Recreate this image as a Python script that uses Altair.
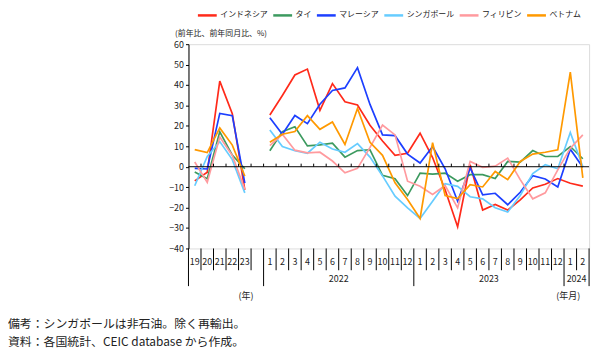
import altair as alt
import pandas as pd

countries = ["インドネシア", "タイ", "マレーシア", "シンガポール", "フィリピン", "ベトナム"]
colors = ["#FF2A1A", "#3C9A5F", "#1C3FFF", "#66CCFF", "#FF9A9E", "#FF9900"]

year_labels = ["19", "20", "21", "22", "23"]
month_labels = [str(m) for m in range(1, 13)] + [str(m) for m in range(1, 13)] + ["1", "2"]
month_groups = ["2022", "2023", "2024"]
month_group_sizes = [12, 12, 2]

annual_idn = [-6.9, -2.7, 41.9, 26.0, -11.3]
annual_tha = [-2.6, -5.9, 17.1, 5.7, -1.0]
annual_mys = [-0.8, -1.1, 26.1, 25.0, -8.0]
annual_sgp = [-9.3, 5.0, 12.3, 3.5, -12.8]
annual_phl = [2.3, -7.7, 14.6, 5.5, -11.0]
annual_vnm = [8.4, 6.9, 19.0, 10.6, -4.6]

monthly_idn = [25.3, 34.9, 44.9, 47.8, 27.6, 40.7, 31.8, 30.2, 20.3, 12.6, 5.6, 6.6,
               16.4, 4.5, -11.3, -29.4, 1.0, -21.2, -18.5, -21.2, -16.2, -10.4, -8.6, -5.8,
               -8.1, -9.5]
monthly_tha = [7.8, 17.2, 19.6, 10.2, 10.7, 11.5, 4.7, 7.9, 8.3, -4.2, -5.9, -14.1,
               -3.1, -3.6, -3.1, -7.1, -3.9, -3.9, -5.8, 2.6, 2.3, 7.9, 5.0, 5.0,
               9.9, 3.9]
monthly_mys = [24.0, 15.9, 25.1, 21.1, 30.6, 37.3, 38.6, 48.5, 30.5, 15.6, 15.2, 6.2,
               1.8, 9.9, -1.0, -16.9, -0.6, -13.8, -13.0, -18.6, -12.5, -4.4, -6.0, -9.9,
               8.6, -0.3]
monthly_sgp = [18.0, 9.9, 7.8, 6.6, 12.0, 8.7, 7.1, 11.3, 4.7, -4.5, -14.4, -20.1,
               -25.3, -16.9, -8.3, -9.6, -14.7, -15.7, -20.1, -22.2, -14.1, -3.4, 1.0, -1.0,
               16.8, 0.0]
monthly_phl = [10.3, 15.9, 8.1, 6.8, 7.1, 2.8, -3.0, -0.8, 9.5, 20.4, 15.6, -7.1,
               -9.6, -13.6, -9.2, -20.1, 2.6, -0.3, 0.3, 4.2, -6.3, -15.7, -12.8, -1.5,
               9.1, 15.6]
monthly_vnm = [12.0, 15.9, 17.2, 25.0, 18.3, 21.9, 10.9, 28.5, 12.0, 5.6, -7.9, -16.0,
               -25.3, 11.8, -14.1, -15.6, -8.8, -9.9, -2.3, -6.3, 2.6, 6.2, 7.1, 8.3,
               46.3, -5.5]

annual = [annual_idn, annual_tha, annual_mys, annual_sgp, annual_phl, annual_vnm]
monthly = [monthly_idn, monthly_tha, monthly_mys, monthly_sgp, monthly_phl, monthly_vnm]

n_annual = len(year_labels)
month_start = n_annual + 1  # one blank slot between sections
n_total = month_start + len(month_labels)

rows = []
for c, a, m in zip(countries, annual, monthly):
    for i, v in enumerate(a):
        rows.append({"country": c, "idx": i, "value": v, "seg": c + "_A"})
    for i, v in enumerate(m):
        rows.append({"country": c, "idx": month_start + i, "value": v, "seg": c + "_M"})
df = pd.DataFrame(rows)

cat_rows = [{"idx": i, "lab": l} for i, l in enumerate(year_labels)]
cat_rows += [{"idx": month_start + i, "lab": l} for i, l in enumerate(month_labels)]
cat_df = pd.DataFrame(cat_rows)

long_b = [-0.5, month_start - 0.5]
grp_rows = []
s = month_start
for g, n in zip(month_groups, month_group_sizes):
    grp_rows.append({"idx": s + (n - 1) / 2, "lab": g})
    s += n
    long_b.append(s - 0.5)
grp_df = pd.DataFrame(grp_rows)
short_b = [i + 0.5 for i in range(n_total - 1) if (i + 0.5) not in long_b]
short_df = pd.DataFrame({"b": short_b})
long_df = pd.DataFrame({"b": long_b})
tick_df = pd.DataFrame({"b": [i + 0.5 for i in range(n_total - 1)]})
tick_df["z0"] = 0.0
tick_df["z1"] = 1.5

W, H = 404, 206
FONT = "Noto Sans CJK JP"
xs = alt.Scale(domain=[-0.5, n_total - 0.5], nice=False, zero=False)
ys = alt.Scale(domain=[-40, 60], nice=False, zero=False)
y_axis = alt.Axis(
    values=list(range(-40, 61, 10)), grid=False, labelFontSize=9, labelColor="#222",
    labelOverlap=False, labelFlush=False,
    tickSize=3, tickColor="#000", domainColor="#000", labelPadding=2,
    title="(前年比、前年同月比、%)", titleAngle=0, titleAlign="left",
    titleBaseline="middle", titleX=-14, titleY=-11, titleFontSize=8,
    titleFontWeight="normal", titleColor="#222")

lines = alt.Chart(df).mark_line(strokeWidth=1.7).encode(
    x=alt.X("idx:Q", scale=xs, axis=None),
    y=alt.Y("value:Q", scale=ys, axis=y_axis),
    color=alt.Color("country:N", sort=countries,
                    scale=alt.Scale(domain=countries, range=colors),
                    legend=alt.Legend(orient="none", legendX=8, legendY=-40,
                                      direction="horizontal", columns=6, title=None,
                                      symbolType="stroke", symbolSize=361,
                                      symbolStrokeWidth=2.5, labelFontSize=8,
                                      labelOffset=2, columnPadding=0, labelColor="#222")),
    detail="seg:N",
)

zero = alt.Chart(pd.DataFrame({"a": [-0.5], "b": [n_total - 0.5], "z": [0.0]})).mark_rule(
    color="#000", strokeWidth=1).encode(
    x=alt.X("a:Q", scale=xs, axis=None), x2="b:Q",
    y=alt.Y("z:Q", scale=ys, axis=y_axis))

zticks = alt.Chart(tick_df).mark_rule(color="#000", strokeWidth=1).encode(
    x=alt.X("b:Q", scale=xs, axis=None),
    y=alt.Y("z0:Q", scale=ys, axis=y_axis), y2="z1:Q")

short_sep = alt.Chart(short_df).mark_rule(color="#000", strokeWidth=1).encode(
    x=alt.X("b:Q", scale=xs, axis=None), y=alt.value(H), y2=alt.value(H + 22))
long_sep = alt.Chart(long_df).mark_rule(color="#000", strokeWidth=1).encode(
    x=alt.X("b:Q", scale=xs, axis=None), y=alt.value(H), y2=alt.value(H + 38))

cat_text = alt.Chart(cat_df).mark_text(fontSize=9, color="#222", baseline="middle").encode(
    x=alt.X("idx:Q", scale=xs, axis=None), y=alt.value(H + 14), text="lab:N")
grp_text = alt.Chart(grp_df).mark_text(fontSize=9, color="#222", baseline="middle").encode(
    x=alt.X("idx:Q", scale=xs, axis=None), y=alt.value(H + 31), text="lab:N")

unit_df = pd.DataFrame({"t": ["(年)", "(年月)"], "px": [58, 383]})
unit_text = alt.Chart(unit_df).mark_text(fontSize=9, color="#222", baseline="middle").encode(
    x=alt.X("px:Q", scale=None), y=alt.value(H + 48), text="t:N")

notes_df = pd.DataFrame({"t": ["備考：シンガポールは非石油。除く再輸出。",
                               "資料：各国統計、CEIC database から作成。"],
                         "py": [H + 76, H + 94]})
notes = alt.Chart(notes_df).mark_text(fontSize=12, color="#222", align="left",
                                      baseline="middle").encode(
    x=alt.value(-182), y=alt.Y("py:Q", scale=None), text="t:N")

chart = alt.layer(lines, zero, zticks, short_sep, long_sep, cat_text, grp_text,
                  unit_text, notes).properties(
    width=W, height=H,
    autosize=alt.AutoSizeParams(type="none"),
    padding={"left": 182, "top": 35, "right": 10, "bottom": 108},
).configure_view(stroke="#000", strokeWidth=1).configure(font=FONT)

chart.save("out.html", embed_options={"renderer": "svg", "actions": False})
